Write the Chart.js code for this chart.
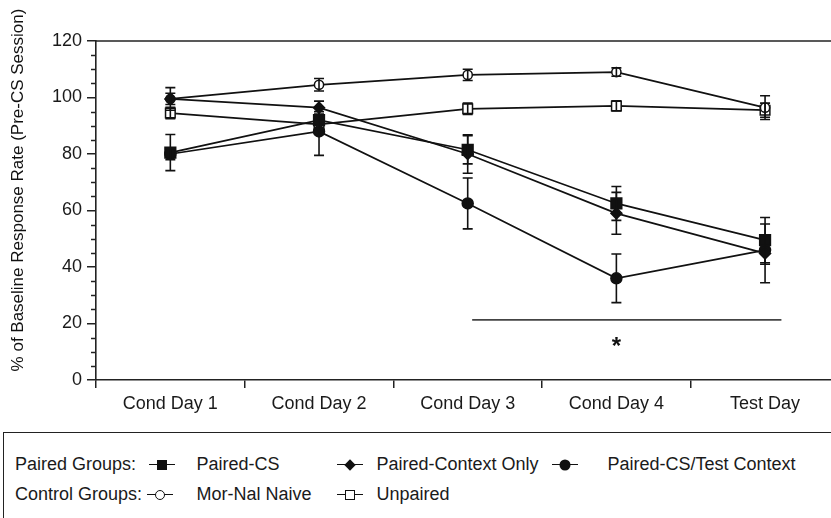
<!DOCTYPE html>
<html>
<head>
<meta charset="utf-8">
<script src="https://cdn.jsdelivr.net/npm/chart.js@4.4.1/dist/chart.umd.min.js"></script>
<style>
	html, body { margin: 0; padding: 0; background: #fff; overflow: hidden; }
	body { width: 831px; height: 518px; position: relative; font-family: "Liberation Sans", Arial, sans-serif; color: #1a1a1a; }
	#wrap { position: absolute; left: 0; top: 0; width: 850px; height: 430px; }
	#legend { position: absolute; left: 3px; top: 432px; width: 900px; height: 120px; border: 1.6px solid #222; box-sizing: border-box; }
	.lg { position: absolute; font-size: 18px; line-height: 20px; white-space: nowrap; }
	.sw { position: absolute; height: 20px; width: 26px; }
	.sw::before { content: ''; position: absolute; left: 0; right: 0; top: 10px; border-top: 1.5px solid #111; }
	.mk { position: absolute; left: 50%; top: 10.5px; transform: translate(-50%, -50%); box-sizing: border-box; }
</style>
</head>
<body>
<div id="wrap"><canvas id="chart"></canvas></div>
<div id="legend"></div>
<script>
// values (% of baseline response rate, mean and SEM)
const days = ['Cond Day 1', 'Cond Day 2', 'Cond Day 3', 'Cond Day 4', 'Test Day'];

const pairedCS = [80.5, 92, 81.5, 62.5, 49.5];
const pairedCSErr = [6.4, 3, 5, 6, 8];
const contextOnly = [99.5, 96.4, 80, 59, 44.8];
const contextOnlyErr = [4, 2.3, 6.8, 7.4, 10.4];
const csTestContext = [80, 88, 62.5, 36, 46];
const csTestContextErr = [2, 8.5, 9, 8.6, 5];
const morNalNaive = [99.5, 104.5, 108, 109, 96.4];
const morNalNaiveErr = [2, 2.2, 2, 1.5, 4.2];
const unpaired = [94.5, 90.5, 96, 97, 95.5];
const unpairedErr = [2, 2, 2, 1.8, 2.5];

// significance bar: from/to in category units, and its level
const sigFrom = 2.03;
const sigTo = 4.11;
const sigLevel = 21.3;

const ink = '#111';
const font = '"Liberation Sans", Arial, sans-serif';

const ds = (label, data, err, style, radius, fill) => ({
	label, data, err,
	borderColor: ink, borderWidth: 1.7,
	pointStyle: style, pointRadius: radius, pointHoverRadius: radius,
	pointBackgroundColor: fill, pointBorderColor: ink, pointBorderWidth: 1.5,
	tension: 0, fill: false
});

const errorBars = {
	id: 'errorBars',
	afterDatasetsDraw(chart) {
		const { ctx, scales: { x, y } } = chart;
		ctx.save();
		ctx.strokeStyle = ink;
		ctx.lineWidth = 1.6;
		chart.data.datasets.forEach(d => {
			d.data.forEach((v, i) => {
				const px = x.getPixelForValue(i);
				const top = y.getPixelForValue(v + d.err[i]);
				const bot = y.getPixelForValue(v - d.err[i]);
				ctx.beginPath();
				ctx.moveTo(px, top); ctx.lineTo(px, bot);
				ctx.moveTo(px - 5, top); ctx.lineTo(px + 5, top);
				ctx.moveTo(px - 5, bot); ctx.lineTo(px + 5, bot);
				ctx.stroke();
			});
		});
		ctx.restore();
	}
};

const frame = {
	id: 'frame',
	afterDraw(chart) {
		const { ctx, chartArea: a, scales: { x, y } } = chart;
		ctx.save();
		// top border of the plot box
		ctx.strokeStyle = '#222'; ctx.lineWidth = 1.6;
		ctx.beginPath(); ctx.moveTo(a.left, a.top); ctx.lineTo(a.right, a.top); ctx.stroke();
		// minor ticks every 5
		ctx.lineWidth = 1.5;
		for (let v = 5; v < 120; v += 5) {
			if (v % 20 === 0) {continue;}
			const py = Math.round(y.getPixelForValue(v)) + 0.5;
			ctx.beginPath(); ctx.moveTo(a.left - 5, py); ctx.lineTo(a.left, py); ctx.stroke();
		}
		// significance line and star
		const sy = y.getPixelForValue(sigLevel);
		ctx.strokeStyle = '#444'; ctx.lineWidth = 1.6;
		ctx.beginPath(); ctx.moveTo(x.getPixelForValue(sigFrom), sy); ctx.lineTo(x.getPixelForValue(sigTo), sy); ctx.stroke();
		ctx.fillStyle = ink;
		ctx.font = 'bold 24px ' + font;
		ctx.textAlign = 'center'; ctx.textBaseline = 'middle';
		ctx.fillText('*', x.getPixelForValue(3), sy + 28);
		// y axis title
		ctx.translate(18, 190);
		ctx.rotate(-Math.PI / 2);
		ctx.font = '17px ' + font;
		ctx.fillText('% of Baseline Response Rate (Pre-CS Session)', 0, 0);
		ctx.restore();
	}
};

new Chart(document.getElementById('chart'), {
	type: 'line',
	data: {
		labels: days,
		datasets: [
			ds('Paired-CS', pairedCS, pairedCSErr, 'rect', 7.6, ink),
			ds('Paired-Context Only', contextOnly, contextOnlyErr, 'rectRot', 5.5, ink),
			ds('Paired-CS/Test Context', csTestContext, csTestContextErr, 'circle', 5.5, ink),
			ds('Mor-Nal Naive', morNalNaive, morNalNaiveErr, 'circle', 4.6, '#fff'),
			ds('Unpaired', unpaired, unpairedErr, 'rect', 6.8, '#fff')
		]
	},
	options: {
		responsive: true, maintainAspectRatio: false, animation: false,
		layout: { padding: { top: 41, right: 10.6, left: 0, bottom: 0 } },
		plugins: { legend: { display: false }, tooltip: { enabled: false } },
		scales: {
			x: {
				offset: true,
				grid: { offset: true, drawOnChartArea: false, tickLength: 8, color: '#222', lineWidth: 1.5 },
				border: { color: '#222', width: 1.6 },
				ticks: { color: '#1a1a1a', font: { family: font, size: 18 }, padding: 5, maxRotation: 0 },
				afterFit: s => { s.height = 50; }
			},
			y: {
				min: 0, max: 120,
				grid: { drawOnChartArea: false, tickLength: 9, color: '#222', lineWidth: 1.5 },
				border: { color: '#222', width: 1.6 },
				ticks: { stepSize: 20, color: '#1a1a1a', font: { family: font, size: 18 }, padding: 5 },
				afterFit: s => { s.width = 96; }
			}
		}
	},
	plugins: [errorBars, frame]
});

// legend box
const legendRows = [
	{ top: 21, label: 'Paired Groups:', items: [
		{ sw: 149, tx: 197, text: 'Paired-CS', mk: 'width:10px;height:10px;background:#111' },
		{ sw: 337, tx: 377, text: 'Paired-Context Only', mk: 'width:8px;height:8px;background:#111;transform:translate(-50%,-50%) rotate(45deg)' },
		{ sw: 552, tx: 608, text: 'Paired-CS/Test Context', mk: 'width:11px;height:11px;border-radius:50%;background:#111' }
	] },
	{ top: 51, label: 'Control Groups:', items: [
		{ sw: 147, tx: 197, text: 'Mor-Nal Naive', mk: 'width:10px;height:10px;border-radius:50%;border:1.5px solid #111;background:#fff' },
		{ sw: 337, tx: 377, text: 'Unpaired', mk: 'width:10px;height:10px;border:1.5px solid #111;background:#fff' }
	] }
];
const lg = document.getElementById('legend');
legendRows.forEach(r => {
	const l = document.createElement('div');
	l.className = 'lg'; l.style.left = '11px'; l.style.top = r.top + 'px'; l.textContent = r.label;
	lg.appendChild(l);
	r.items.forEach(it => {
		const s = document.createElement('div');
		s.className = 'sw'; s.style.left = (it.sw - 4.5) + 'px'; s.style.top = r.top + 'px';
		const m = document.createElement('div');
		m.className = 'mk'; m.style.cssText = it.mk;
		s.appendChild(m);
		lg.appendChild(s);
		const t = document.createElement('div');
		t.className = 'lg'; t.style.left = (it.tx - 4.5) + 'px'; t.style.top = r.top + 'px'; t.textContent = it.text;
		lg.appendChild(t);
	});
});
</script>
</body>
</html>
